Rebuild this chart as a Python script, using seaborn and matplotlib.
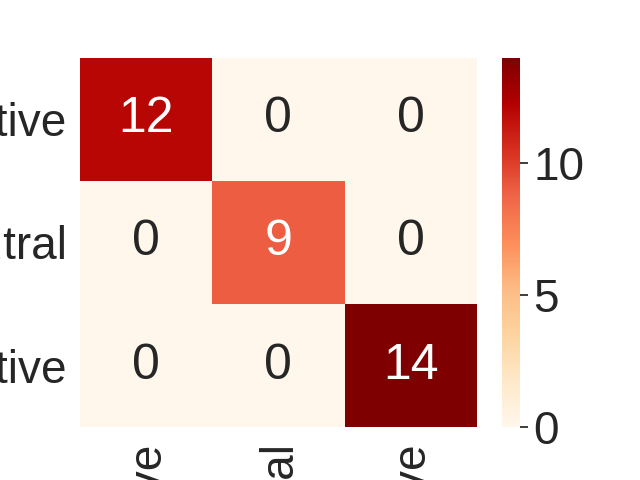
import numpy as np
import matplotlib
matplotlib.use("Agg")
import matplotlib.pyplot as plt
import seaborn as sns

labels = ["Negative", "Neutral", "Positive"]
row_negative = [12, 0, 0]
row_neutral = [0, 9, 0]
row_positive = [0, 0, 14]


def main():
    #-------------------------------------------
    # Confusion matrix heatmap
    #-------------------------------------------
    sns.set(style="white", font_scale=3)
    plt.rcParams["font.family"] = ["Liberation Sans", "DejaVu Sans"]

    cm = np.array([row_negative, row_neutral, row_positive])

    fig = plt.figure(figsize=(6.4, 4.8), dpi=100)
    ax = sns.heatmap(cm, annot=True, fmt="d", cmap="OrRd",
                     xticklabels=labels, yticklabels=labels)
    ax.set_xticklabels(labels, rotation=90)
    ax.set_yticklabels(labels, rotation=0, va="center_baseline")

    fig.savefig("out.png", dpi=100)


if __name__ == "__main__":
    main()
